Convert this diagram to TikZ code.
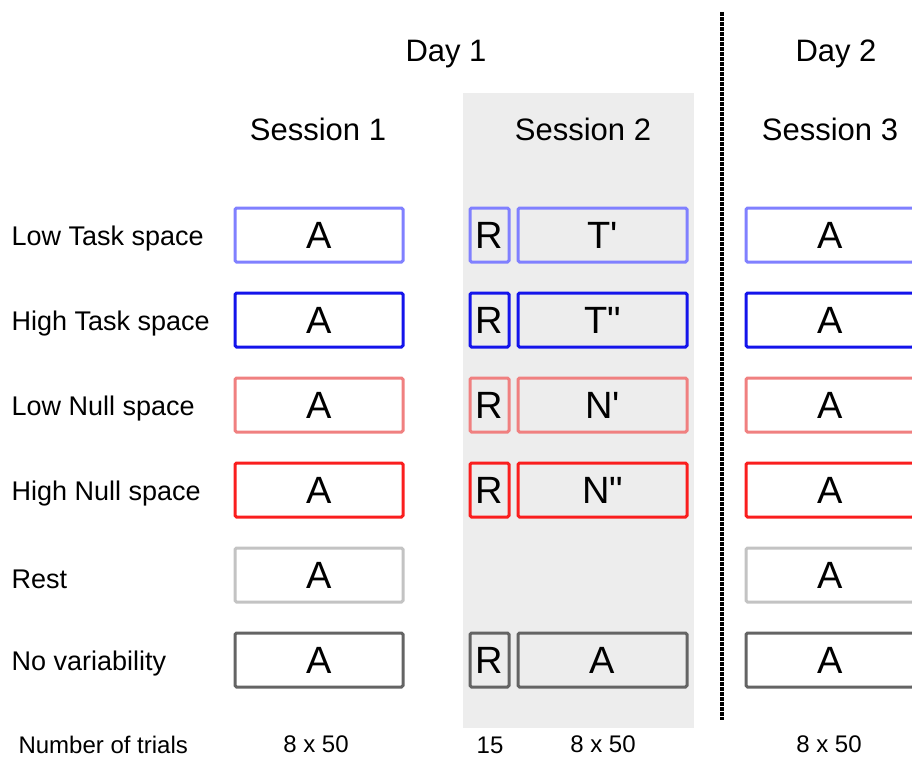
\documentclass[tikz,border=0pt]{standalone}
\usepackage{fontspec}
\setmainfont{Liberation Sans}
\newfontfamily\qfont{Liberation Sans}
\definecolor{lblue}{RGB}{128,128,255}
\definecolor{dblue}{RGB}{20,20,235}
\definecolor{lred}{RGB}{240,128,128}
\definecolor{dred}{RGB}{250,30,30}
\definecolor{lgray}{RGB}{195,195,195}
\definecolor{dgray}{RGB}{100,100,100}
\definecolor{bgshade}{RGB}{237,237,237}
\tikzset{
  box/.style={draw=#1, line width=3pt, rounded corners=1.5pt, minimum height=54pt, inner sep=0pt, font=\fontsize{38}{40}\selectfont},
  wbox/.style={box=#1, fill=white, minimum width=168pt},
  rbox/.style={box=#1, minimum width=39pt},
  tbox/.style={box=#1, minimum width=169pt},
  rowlab/.style={anchor=west, font=\fontsize{27}{30}\selectfont},
  head/.style={font=\fontsize{31}{34}\selectfont},
  small/.style={font=\fontsize{24}{26}\selectfont}
}
\begin{document}
\begin{tikzpicture}[x=1pt,y=-1pt]
\useasboundingbox (0,0) rectangle (912,758);
\clip (0,0) rectangle (912,758);
\fill[bgshade] (463,93) rectangle (694,728);
\coordinate (dtop) at (722,12);
\coordinate (dbot) at (722,720);
\draw[line width=3.5pt, dash pattern=on 3.5pt off 1.5pt] (dtop) -- (dbot);
\node[head] (day1) at (446,54) {Day 1};
\node[head] (day2) at (836,54) {Day 2};
\node[head] (s1) at (318,129) {Session 1};
\node[head] (s2) at (583,129) {Session 2};
\node[head] (s3) at (830,129) {Session 3};
% row labels
\node[rowlab] (l1) at (8,239) {Low Task space};
\node[rowlab] (l2) at (8,324) {High Task space};
\node[rowlab] (l3) at (8,409) {Low Null space};
\node[rowlab] (l4) at (8,494) {High Null space};
\node[rowlab] (l5) at (8,579) {Rest};
\node[rowlab] (l6) at (8,664) {No variability};
% session 1
\node[wbox=lblue] (a1) at (319,235) {A};
\node[wbox=dblue] (a2) at (319,320) {A};
\node[wbox=lred]  (a3) at (319,405) {A};
\node[wbox=dred]  (a4) at (319,490) {A};
\node[wbox=lgray] (a5) at (319,575) {A};
\node[wbox=dgray] (a6) at (319,660) {A};
% session 2
\node[rbox=lblue] (r1) at (489.5,235) {R};
\node[rbox=dblue] (r2) at (489.5,320) {R};
\node[rbox=lred]  (r3) at (489.5,405) {R};
\node[rbox=dred]  (r4) at (489.5,490) {R};
\node[rbox=dgray] (r6) at (489.5,660) {R};
\node[tbox=lblue] (t1) at (602.5,235) {\qfont T'};
\node[tbox=dblue] (t2) at (602.5,320) {\qfont T"};
\node[tbox=lred]  (t3) at (602.5,405) {\qfont N'};
\node[tbox=dred]  (t4) at (602.5,490) {\qfont N"};
\node[tbox=dgray] (t6) at (602.5,660) {A};
% session 3
\node[wbox=lblue] (b1) at (830,235) {A};
\node[wbox=dblue] (b2) at (830,320) {A};
\node[wbox=lred]  (b3) at (830,405) {A};
\node[wbox=dred]  (b4) at (830,490) {A};
\node[wbox=lgray] (b5) at (830,575) {A};
\node[wbox=dgray] (b6) at (830,660) {A};
% trials
\node[small, anchor=west] (nt) at (15,745) {Number of trials};
\node[small] (n1) at (316,744) {8 x 50};
\node[small] (n2) at (490,745) {15};
\node[small] (n3) at (603,744) {8 x 50};
\node[small] (n4) at (829,744) {8 x 50};
\end{tikzpicture}
\end{document}
